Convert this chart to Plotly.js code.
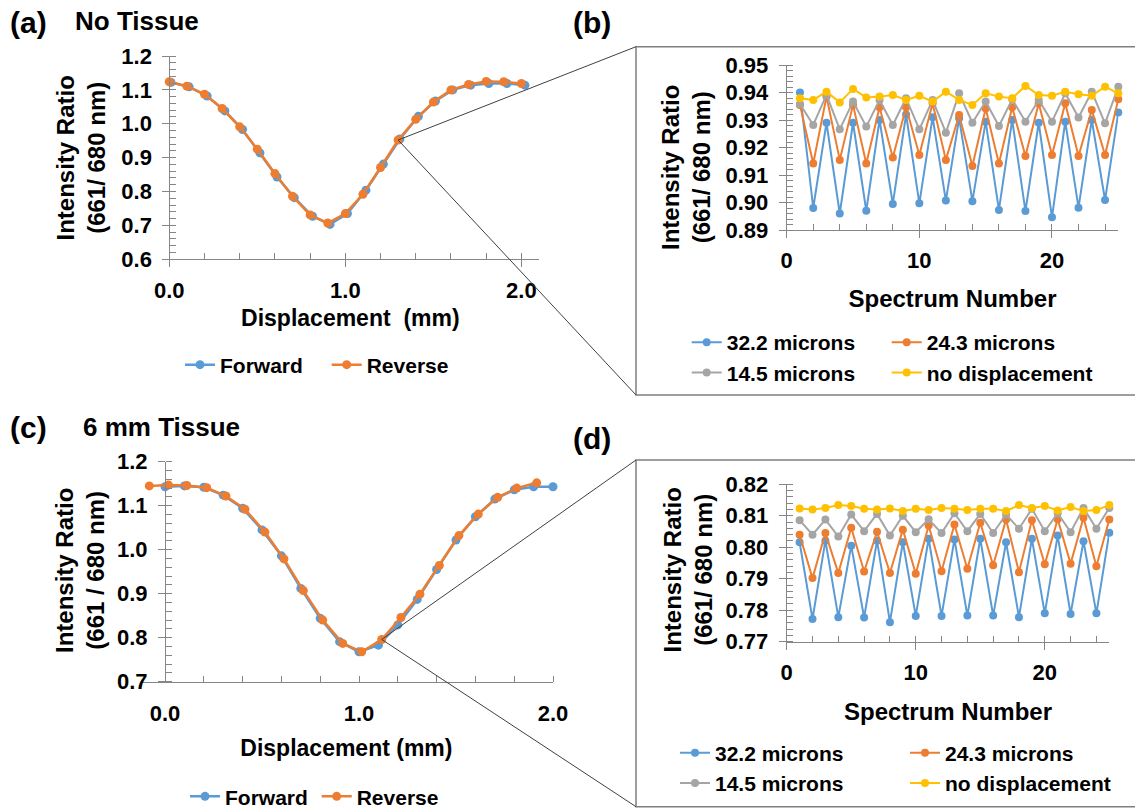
<!DOCTYPE html>
<html><head><meta charset="utf-8">
<script src="https://cdn.plot.ly/plotly-3.0.1.min.js"></script>
<style>html,body{margin:0;padding:0;background:#fff}#chart{width:1135px;height:808px}</style>
</head><body><div id="chart"></div>
<script>
// ---------- DATA ----------
// (a) No Tissue
const dispA_forward = [0.01,0.113,0.215,0.316,0.416,0.515,0.612,0.71,0.814,0.913,1.012,1.117,1.216,1.31,1.415,1.512,1.61,1.712,1.815,1.918,2.02];
const ratioA_forward = [1.122,1.109,1.082,1.038,0.983,0.914,0.843,0.782,0.727,0.703,0.735,0.804,0.881,0.955,1.022,1.067,1.100,1.114,1.119,1.119,1.114];
const dispA_reverse = [0.0,0.1,0.2,0.3,0.4,0.5,0.6,0.7,0.8,0.9,1.0,1.1,1.2,1.3,1.4,1.5,1.6,1.7,1.8,1.9,2.0];
const ratioA_reverse = [1.124,1.111,1.087,1.045,0.991,0.925,0.853,0.786,0.731,0.707,0.735,0.792,0.871,0.952,1.013,1.064,1.100,1.116,1.125,1.124,1.119];
// (c) 6 mm Tissue
const dispC_forward = [0.0,0.1,0.2,0.3,0.4,0.5,0.6,0.7,0.8,0.9,1.0,1.1,1.2,1.3,1.4,1.5,1.6,1.7,1.8,1.9,2.0];
const ratioC_forward = [1.143,1.145,1.142,1.124,1.094,1.045,0.986,0.912,0.844,0.791,0.768,0.783,0.829,0.887,0.955,1.022,1.075,1.115,1.136,1.143,1.143];
const dispC_reverse = [-0.081,0.017,0.112,0.215,0.314,0.412,0.515,0.613,0.713,0.813,0.916,1.014,1.117,1.216,1.314,1.414,1.515,1.615,1.715,1.813,1.916];
const ratioC_reverse = [1.145,1.147,1.146,1.141,1.122,1.092,1.040,0.979,0.907,0.840,0.787,0.768,0.796,0.846,0.899,0.964,1.032,1.081,1.119,1.140,1.152];
// (b), (d) spectra
const spectrumNumber = [1,2,3,4,5,6,7,8,9,10,11,12,13,14,15,16,17,18,19,20,21,22,23,24,25];
const seriesNames = ['32.2 microns','24.3 microns','14.5 microns','no displacement'];
const b_32_2 = [0.940,0.898,0.929,0.896,0.929,0.897,0.930,0.8995,0.932,0.8997,0.931,0.9007,0.9306,0.9005,0.9294,0.8973,0.930,0.8969,0.929,0.8946,0.9294,0.8981,0.930,0.9009,0.9327];
const b_24_3 = [0.9355,0.9142,0.9385,0.9155,0.9355,0.9142,0.9346,0.9164,0.9346,0.9173,0.9361,0.9155,0.9318,0.9133,0.9342,0.9142,0.9346,0.9169,0.9361,0.9173,0.9361,0.9169,0.9336,0.9173,0.9375];
const b_14_5 = [0.9358,0.9282,0.9391,0.9266,0.9367,0.9276,0.9373,0.9282,0.9379,0.9266,0.9373,0.9254,0.9397,0.929,0.9367,0.9278,0.9375,0.9294,0.9373,0.9294,0.9397,0.9309,0.9403,0.9288,0.9421];
const b_none = [0.9379,0.9373,0.9403,0.9364,0.9413,0.9382,0.9385,0.9391,0.9373,0.9388,0.9367,0.9403,0.9373,0.9355,0.9397,0.9385,0.9379,0.9424,0.9391,0.9388,0.9403,0.9394,0.9388,0.9421,0.9397];
const d_32_2 = [0.8016,0.7772,0.8021,0.7778,0.8005,0.7777,0.8021,0.7762,0.8016,0.7782,0.8027,0.7782,0.8025,0.7783,0.8027,0.7783,0.8016,0.7778,0.8027,0.7790,0.8037,0.7788,0.8019,0.7790,0.8046];
const d_24_3 = [0.8040,0.7902,0.8045,0.7918,0.8062,0.7923,0.8049,0.7918,0.8056,0.7916,0.8069,0.7924,0.8072,0.7932,0.8078,0.7943,0.8088,0.7921,0.8086,0.7946,0.8089,0.7948,0.8094,0.7940,0.8088];
const d_14_5 = [0.8086,0.8040,0.8088,0.8034,0.8104,0.8051,0.8106,0.8037,0.8100,0.8048,0.8089,0.8045,0.8108,0.8051,0.8106,0.8045,0.8104,0.8059,0.8122,0.8051,0.8108,0.8048,0.8125,0.8059,0.8125];
const d_none = [0.8123,0.8120,0.8125,0.8134,0.8131,0.8122,0.8120,0.8123,0.8115,0.8122,0.8118,0.8125,0.8122,0.8118,0.8122,0.8122,0.8115,0.8134,0.8125,0.8131,0.8117,0.8128,0.8115,0.8118,0.8134];

// ---------- STYLE / LAYOUT ----------
const W = 1135, H = 808;
const FONT = 'Liberation Sans, Arial, Helvetica, sans-serif';
const BLUE = '#5B9BD5', ORANGE = '#ED7D31', GRAY = '#A5A5A5', YELLOW = '#FFC000';
const AXC = '#868686';
const px = v => v / W, py = v => 1 - v / H;

const P = {
  a: {x: [px(161.7), px(539)], y: [py(259.3), py(56)], xr: [-0.043, 2.1], yr: [0.6, 1.2], yPos: px(169.3)},
  b: {x: [px(786.7), px(1118.3)], y: [py(230), py(65)], xr: [0, 25], yr: [0.89, 0.95]},
  c: {x: [px(139.8), px(553)], y: [py(681.7), py(461.7)], xr: [-0.13, 2.0], yr: [0.7, 1.2], yPos: px(165)},
  d: {x: [px(786.7), px(1109.3)], y: [py(641.7), py(484.3)], xr: [0, 25], yr: [0.77, 0.82]}
};
function toPaper(p, xv, yv) {
  return [p.x[0] + (xv - p.xr[0]) / (p.xr[1] - p.xr[0]) * (p.x[1] - p.x[0]),
          p.y[0] + (yv - p.yr[0]) / (p.yr[1] - p.yr[0]) * (p.y[1] - p.y[0])];
}

const tickFont = {family: FONT, size: 22, color: '#000', weight: 'bold'};
function xAxis(p, anchor, extra) {
  return Object.assign({
    domain: p.x, range: p.xr, anchor: anchor, showline: true, linecolor: AXC, linewidth: 1,
    ticks: 'outside', ticklen: 7, tickcolor: AXC, showgrid: false, zeroline: false,
    tickfont: tickFont, ticklabelstandoff: 4, fixedrange: true
  }, extra);
}
function yAxis(p, anchor, extra) {
  return Object.assign({
    domain: p.y, range: p.yr, anchor: anchor, showline: true, linecolor: AXC, linewidth: 1,
    ticks: 'outside', ticklen: 7, tickcolor: AXC, showgrid: false, zeroline: false,
    tickfont: tickFont, ticklabelstandoff: 6, fixedrange: true
  }, extra);
}
const dispTitleFont = {family: FONT, size: 23, color: '#000', weight: 'bold'};
const specTitleFont = {family: FONT, size: 24, color: '#000', weight: 'bold'};

function line(x, y, name, color, xa, ya, leg, w, ms) {
  return {type: 'scatter', mode: 'lines+markers', x: x, y: y, name: name, xaxis: xa, yaxis: ya,
    legend: leg, cliponaxis: false, line: {color: color, width: w}, marker: {color: color, size: ms}};
}

const data = [
  line(dispA_forward, ratioA_forward, 'Forward', BLUE, 'x', 'y', 'legend', 2.5, 9),
  line(dispA_reverse, ratioA_reverse, 'Reverse', ORANGE, 'x', 'y', 'legend2', 2.5, 9),
  line(spectrumNumber, b_32_2, seriesNames[0], BLUE, 'x2', 'y2', 'legend3', 2, 8),
  line(spectrumNumber, b_24_3, seriesNames[1], ORANGE, 'x2', 'y2', 'legend4', 2, 8),
  line(spectrumNumber, b_14_5, seriesNames[2], GRAY, 'x2', 'y2', 'legend3', 2, 8),
  line(spectrumNumber, b_none, seriesNames[3], YELLOW, 'x2', 'y2', 'legend4', 2, 8),
  line(dispC_forward, ratioC_forward, 'Forward', BLUE, 'x3', 'y3', 'legend5', 2.5, 9),
  line(dispC_reverse, ratioC_reverse, 'Reverse', ORANGE, 'x3', 'y3', 'legend6', 2.5, 9),
  line(spectrumNumber, d_32_2, seriesNames[0], BLUE, 'x4', 'y4', 'legend7', 2, 8),
  line(spectrumNumber, d_24_3, seriesNames[1], ORANGE, 'x4', 'y4', 'legend8', 2, 8),
  line(spectrumNumber, d_14_5, seriesNames[2], GRAY, 'x4', 'y4', 'legend7', 2, 8),
  line(spectrumNumber, d_none, seriesNames[3], YELLOW, 'x4', 'y4', 'legend8', 2, 8)
];

const legFont = {family: FONT, size: 21, color: '#000', weight: 'bold'};
function leg(symStartPx, centerPy) {
  return {x: px(symStartPx - 5), y: py(centerPy), xanchor: 'left', yanchor: 'middle', orientation: 'v',
    bgcolor: 'rgba(0,0,0,0)', borderwidth: 0, font: legFont, itemwidth: 30, itemclick: false, itemdoubleclick: false};
}

const ann = [];
function txt(text, xPx, yPx, size, xanchor, angle) {
  ann.push({text: text, x: px(xPx), y: py(yPx), xref: 'paper', yref: 'paper', showarrow: false,
    xanchor: xanchor || 'left', yanchor: 'middle', textangle: angle || 0,
    font: {family: FONT, size: size, color: '#000', weight: 'bold'}});
}
txt('(a)', 8, 22, 30);
txt('No Tissue', 73, 21, 26);
txt('(b)', 571, 22, 30);
txt('(c)', 8, 427, 30);
txt('6 mm Tissue', 81, 427, 26);
txt('(d)', 571, 438, 30);
txt('Intensity Ratio<br>(661/ 680 nm)', 80.5, 158, 24, 'center', -90);
txt('Intensity Ratio<br>(661/ 680 nm)', 686, 168, 24, 'center', -90);
txt('Intensity Ratio<br>(661 / 680 nm)', 80, 571, 24, 'center', -90);
txt('Intensity Ratio<br>(661/ 680 nm)', 687.5, 570, 24, 'center', -90);

// connector lines and zoom boxes
const startA = toPaper(P.a, dispA_reverse[13], ratioA_reverse[13]);
const startC = toPaper(P.c, dispC_reverse[12], ratioC_reverse[12]);
const connColor = '#404040';
const shapes = [
  {type: 'rect', xref: 'paper', yref: 'paper', x0: px(636), x1: px(1145), y0: py(395), y1: py(46.7), line: {color: '#7f7f7f', width: 1.5}},
  {type: 'rect', xref: 'paper', yref: 'paper', x0: px(636), x1: px(1145), y0: py(806.7), y1: py(460), line: {color: '#7f7f7f', width: 1.5}},
  {type: 'line', xref: 'paper', yref: 'paper', x0: startA[0], y0: startA[1], x1: px(636), y1: py(46.7), line: {color: connColor, width: 1}},
  {type: 'line', xref: 'paper', yref: 'paper', x0: startA[0], y0: startA[1], x1: px(636), y1: py(395), line: {color: connColor, width: 1}},
  {type: 'line', xref: 'paper', yref: 'paper', x0: startC[0], y0: startC[1], x1: px(636), y1: py(460), line: {color: connColor, width: 1}},
  {type: 'line', xref: 'paper', yref: 'paper', x0: startC[0], y0: startC[1], x1: px(636), y1: py(806.7), line: {color: connColor, width: 1}}
];

const layout = {
  width: W, height: H, margin: {l: 0, r: 0, t: 0, b: 0, autoexpand: false},
  paper_bgcolor: '#fff', plot_bgcolor: 'rgba(0,0,0,0)', showlegend: true,
  font: {family: FONT, color: '#000'},
  xaxis: xAxis(P.a, 'y', {tickvals: [0, 1, 2], tickformat: '.1f',
    minor: {tick0: 0, dtick: 0.2, ticks: 'inside', ticklen: 6, tickcolor: AXC},
    title: {text: 'Displacement\u00a0 (mm)', font: dispTitleFont, standoff: 8}}),
  yaxis: yAxis(P.a, 'free', {position: P.a.yPos, dtick: 0.1, tick0: 0, tickformat: '.1f',
    minor: {dtick: 0.02, ticks: 'inside', ticklen: 6, tickcolor: AXC}}),
  xaxis2: xAxis(P.b, 'y2', {dtick: 10, tick0: 0,
    minor: {dtick: 2, ticks: 'inside', ticklen: 6, tickcolor: AXC},
    title: {text: 'Spectrum Number', font: specTitleFont, standoff: 17}}),
  yaxis2: yAxis(P.b, 'x2', {dtick: 0.01, tick0: 0, tickformat: '.2f',
    minor: {dtick: 0.002, ticks: 'inside', ticklen: 6, tickcolor: AXC}}),
  xaxis3: xAxis(P.c, 'y3', {tickvals: [0, 1, 2], tickformat: '.1f', ticks: '', ticklabelstandoff: 12,
    minor: {tick0: 0, dtick: 0.2, ticks: 'inside', ticklen: 6, tickcolor: AXC},
    title: {text: 'Displacement (mm)', font: dispTitleFont, standoff: 14}}),
  xaxis5: {overlaying: 'x3', anchor: 'y3', range: P.c.xr, tickvals: [0.8, 1.8], ticks: 'outside', ticklen: 9,
    tickcolor: AXC, showticklabels: false, showline: false, showgrid: false, zeroline: false, fixedrange: true},
  yaxis3: yAxis(P.c, 'free', {position: P.c.yPos, dtick: 0.1, tick0: 0, tickformat: '.1f',
    minor: {dtick: 0.02, ticks: 'inside', ticklen: 6, tickcolor: AXC}}),
  xaxis4: xAxis(P.d, 'y4', {dtick: 10, tick0: 0,
    minor: {dtick: 2, ticks: 'inside', ticklen: 6, tickcolor: AXC},
    title: {text: 'Spectrum Number', font: specTitleFont, standoff: 19}}),
  yaxis4: yAxis(P.d, 'x4', {dtick: 0.01, tick0: 0, tickformat: '.2f',
    minor: {dtick: 0.002, ticks: 'inside', ticklen: 6, tickcolor: AXC}}),
  legend: leg(185, 365),
  legend2: leg(331.7, 365),
  legend3: leg(691.7, 357.5),
  legend4: leg(891.7, 357.5),
  legend5: leg(190, 796.7),
  legend6: leg(321.7, 796.7),
  legend7: leg(680, 768),
  legend8: leg(910, 768),
  annotations: ann,
  shapes: shapes
};

Plotly.newPlot('chart', data, layout, {staticPlot: true, displayModeBar: false});
</script></body></html>
